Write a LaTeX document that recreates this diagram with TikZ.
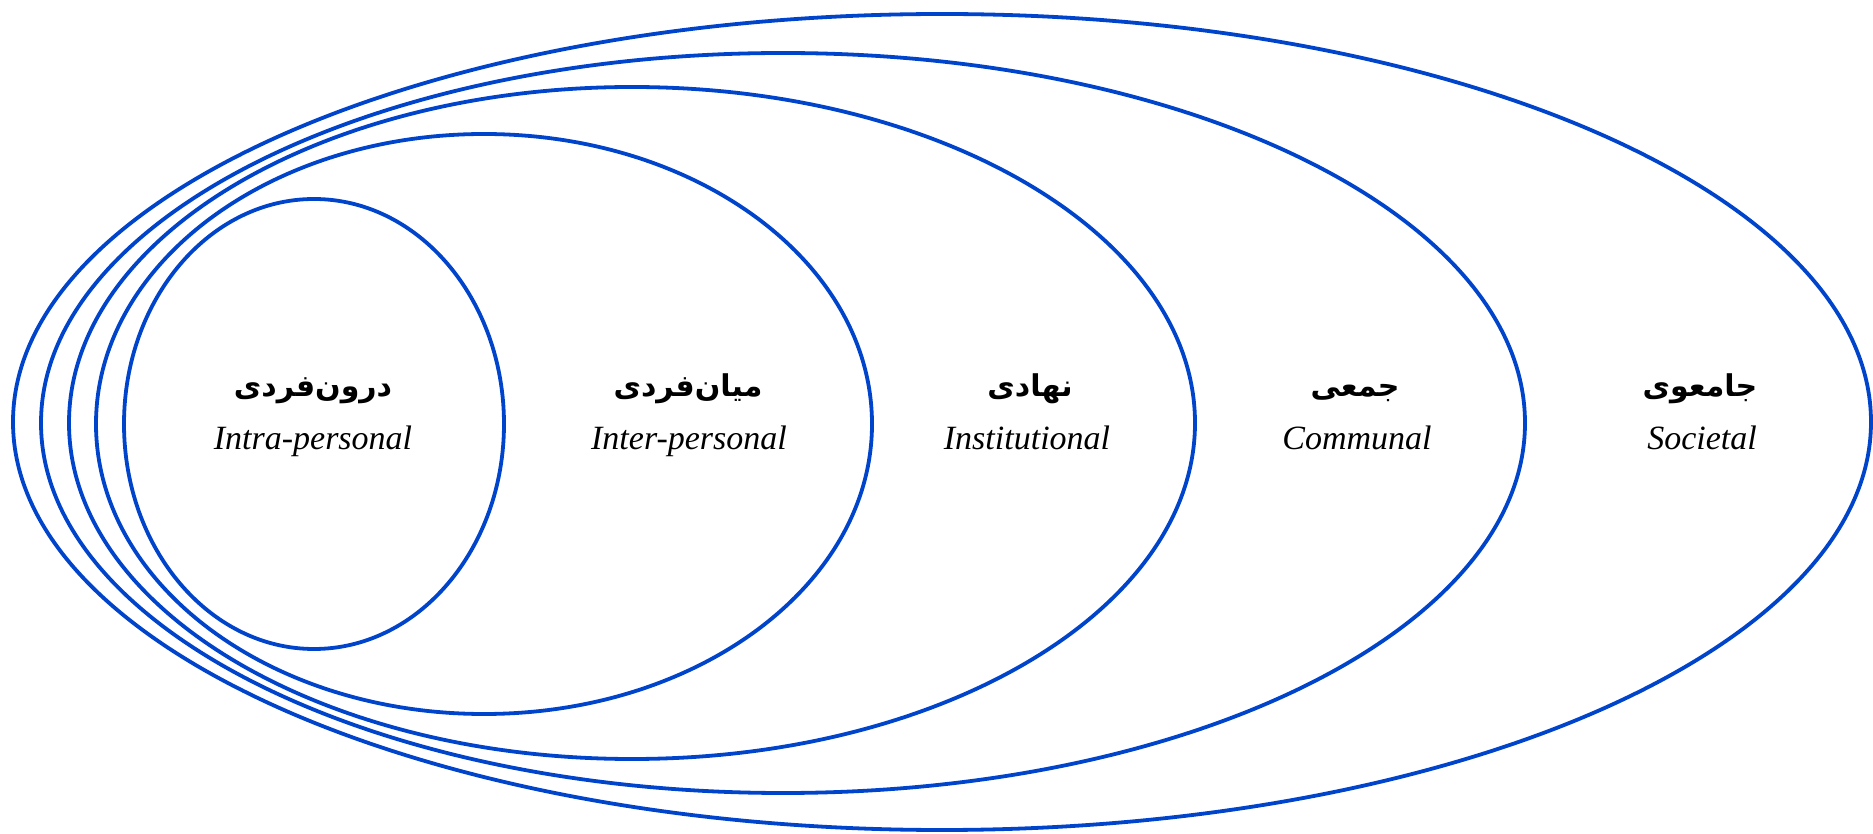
\documentclass[tikz,border=0pt]{standalone}
\usepackage{fontspec}
\setmainfont{Liberation Serif}
\newfontfamily\arabicfont[Script=Arabic]{DejaVu Sans}
\TeXXeTstate=1
\definecolor{ringblue}{RGB}{0,68,204}
\tikzset{
  ring/.style={draw=ringblue, line width=3.8pt},
  fa/.style={anchor=base, font=\arabicfont\bfseries\fontsize{30}{36}\selectfont},
  en/.style={anchor=base, font=\itshape\fontsize{34}{40}\selectfont}
}
\begin{document}
\begin{tikzpicture}[x=1pt,y=1pt]
  \useasboundingbox (0,0) rectangle (1873,833);
  % rings, outer to inner
  \draw[ring] (942,411) ellipse (929 and 408);
  \draw[ring] (783,410) ellipse (742 and 370);
  \draw[ring] (632,410) ellipse (563 and 336);
  \draw[ring] (484,409) ellipse (388 and 290);
  \draw[ring] (314,409) ellipse (190 and 225);
  % labels
  \node[fa] (intrafa) at (313,436) {\beginR درون^^^^200cفردی\endR};
  \node[en] (intraen) at (313,383) {Intra-personal};
  \node[fa] (interfa) at (688,436) {\beginR میان^^^^200cفردی\endR};
  \node[en] (interen) at (689,383) {Inter-personal};
  \node[fa] (instfa) at (1030,436) {\beginR نهادی\endR};
  \node[en] (insten) at (1027,383) {Institutional};
  \node[fa] (commfa) at (1355,436) {\beginR جمعی\endR};
  \node[en] (commen) at (1357,383) {Communal};
  \node[fa] (socfa) at (1700,436) {\beginR جامعوی\endR};
  \node[en] (socen) at (1702,383) {Societal};
\end{tikzpicture}
\end{document}
